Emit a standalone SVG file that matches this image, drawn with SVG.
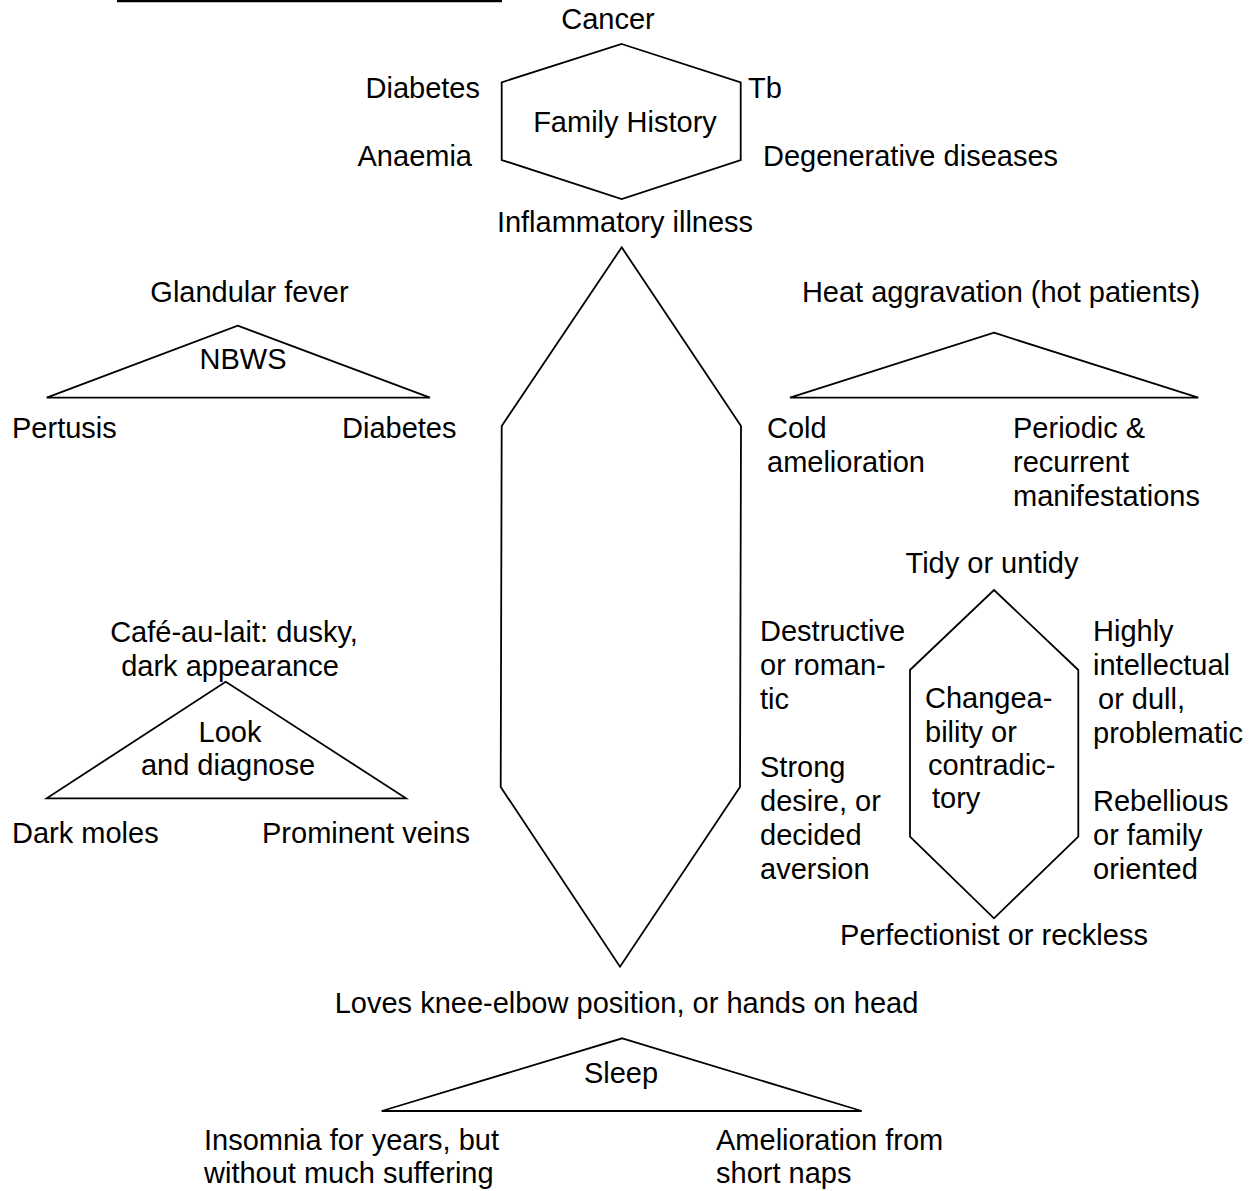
<svg xmlns="http://www.w3.org/2000/svg" width="1258" height="1191" viewBox="0 0 1258 1191">
<style>
text{font-family:"Liberation Sans",Arial,sans-serif;font-size:29px;fill:#000}
.c{text-anchor:middle}
.e{text-anchor:end}
.shape{fill:#fff;stroke:#000;stroke-width:1.8;stroke-linejoin:miter}
</style>
<rect x="0" y="0" width="1258" height="1191" fill="#fff"/>
<line x1="117" y1="1" x2="502" y2="1" stroke="#000" stroke-width="2.5"/>
<g id="connectors"></g>
<g id="family-history">
<polygon class="shape" points="621.7,44 740.7,82.3 740.7,160 621.7,199 501.7,160 501.7,82.3"/>
<text class="c" x="625" y="132">Family History</text>
<text class="c" x="608" y="29">Cancer</text>
<text class="e" x="480" y="98">Diabetes</text>
<text x="748" y="98">Tb</text>
<text class="e" x="472" y="166">Anaemia</text>
<text x="763" y="166">Degenerative diseases</text>
<text class="c" x="625" y="232">Inflammatory illness</text>
</g>
<g id="nbws">
<polygon class="shape" points="237.7,325.7 430,397.7 46.7,397.7"/>
<text class="c" x="243" y="369">NBWS</text>
<text class="c" x="249.5" y="302">Glandular fever</text>
<text x="12" y="438">Pertusis</text>
<text x="342" y="438">Diabetes</text>
</g>
<g id="center-hexagon">
<polygon class="shape" points="621.7,247.3 741,426 740,787 620,966.7 500.7,787 501.7,426"/>
<text class="c" x="626.5" y="1013">Loves knee-elbow position, or hands on head</text>
</g>
<g id="heat">
<polygon class="shape" points="994,332.7 1198.3,397.7 790,397.7"/>
<text class="c" x="1001" y="302">Heat aggravation (hot patients)</text>
<text x="767" y="438">Cold</text>
<text x="767" y="472">amelioration</text>
<text x="1013" y="438">Periodic &amp;</text>
<text x="1013" y="472">recurrent</text>
<text x="1013" y="506">manifestations</text>
</g>
<g id="look-diagnose">
<polygon class="shape" points="225.7,681.7 406,798.3 46.7,798.3"/>
<text class="c" x="230" y="742">Look</text>
<text class="c" x="228" y="775">and diagnose</text>
<text class="c" x="234" y="642">Café-au-lait: dusky,</text>
<text class="c" x="230" y="676">dark appearance</text>
<text x="12" y="843">Dark moles</text>
<text x="262" y="843">Prominent veins</text>
</g>
<g id="desire-labels">
<text x="760" y="641">Destructive</text>
<text x="760" y="675">or roman-</text>
<text x="760" y="709">tic</text>
<text x="760" y="777">Strong</text>
<text x="760" y="811">desire, or</text>
<text x="760" y="845">decided</text>
<text x="760" y="879">aversion</text>
</g>
<g id="changeability">
<polygon class="shape" points="994,590 1078.3,670 1078.3,836.7 994,918.3 910,836.7 910,670"/>
<text x="925" y="708">Changea-</text>
<text x="925" y="742">bility or</text>
<text x="928" y="775">contradic-</text>
<text x="932" y="808">tory</text>
<text class="c" x="992" y="573">Tidy or untidy</text>
<text x="1093" y="641">Highly</text>
<text x="1093" y="675">intellectual</text>
<text x="1098" y="709">or dull,</text>
<text x="1093" y="743">problematic</text>
<text x="1093" y="811">Rebellious</text>
<text x="1093" y="845">or family</text>
<text x="1093" y="879">oriented</text>
<text class="c" x="994" y="945">Perfectionist or reckless</text>
</g>
<g id="sleep">
<polygon class="shape" points="622.3,1038.3 861.7,1111 381.7,1111"/>
<text class="c" x="621" y="1083">Sleep</text>
<text x="204" y="1150">Insomnia for years, but</text>
<text x="204" y="1183">without much suffering</text>
<text x="716" y="1150">Amelioration from</text>
<text x="716" y="1183">short naps</text>
</g>
</svg>
